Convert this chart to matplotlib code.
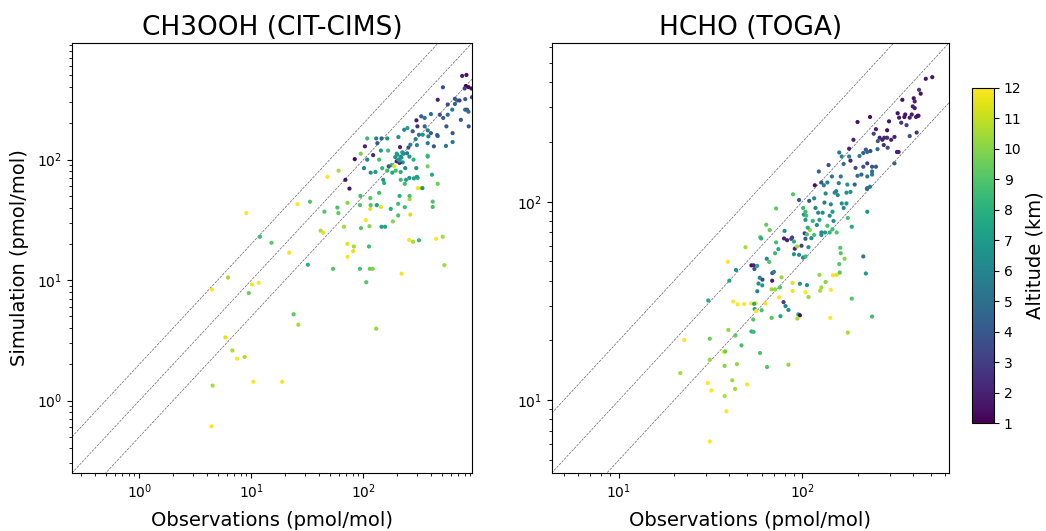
import numpy as np
import matplotlib
matplotlib.use("Agg")
import matplotlib.pyplot as plt

# ---------------- CH3OOH (CIT-CIMS) ----------------
ch3_obs = [4.4, 4.5, 10.4, 18.8, 5.85, 6.76, 7.44, 8.7, 4.45, 6.18,
           9.46, 10.1, 11.6, 9.0, 11.9, 15.1, 21.7, 23.8, 26.2, 25.8,
           33.3, 31.9, 47.6, 60, 41.5, 43.8, 44.8, 53.5, 58.5, 59.7,
           67, 72, 72, 72, 82, 81, 69, 75, 83.6, 93,
           94, 94.6, 101, 93, 106, 114, 121, 112, 105, 95,
           113, 115, 116, 130, 131.5, 143, 145, 156, 183, 204,
           234, 262, 219, 256, 277, 313, 445, 510, 528, 415,
           415, 374, 460, 374, 305, 325, 336, 409, 305, 282,
           234, 215, 194, 163, 147, 178, 188, 138, 143, 166,
           133, 145, 130, 108, 163, 205, 231, 247, 212, 252,
           292, 300, 313, 338, 375, 257, 280, 245, 224, 236,
           296, 375, 460, 425, 545, 625, 625, 352, 328, 400,
           297, 303, 352, 480, 515, 565, 550, 460, 512, 565,
           655, 655, 684, 740, 808, 810, 840, 865, 870, 760,
           830, 820, 865, 920, 800, 930, 720, 620, 455, 400,
           380, 375, 275, 262, 257, 210, 198, 168, 103, 122,
           108, 116, 128, 150, 153, 181, 215, 240, 258, 258,
           210, 204, 138, 115, 175, 300, 215, 200, 205, 218,
           228, 210, 192, 222, 198]
ch3_sim = [0.61, 1.33, 1.43, 1.43, 3.34, 2.6, 2.23, 2.3, 8.35, 10.5,
           7.8, 9.2, 9.5, 36, 22.9, 20.4, 16.9, 5.2, 4.26, 42.7,
           44.7, 13.4, 72, 81, 25.7, 24.7, 37, 12.4, 40, 36,
           27.7, 43.8, 20, 15.6, 19, 17.4, 68, 57.5, 101, 41.9,
           50, 112, 85, 12.4, 9.6, 12.4, 12.4, 19, 31.5, 27,
           28, 39, 41.9, 3.95, 41.9, 40.5, 27.7, 27.7, 30.7, 34.4,
           40.3, 35, 11.3, 21.5, 20.8, 21.4, 22, 22.9, 13.3, 40.5,
           44.8, 88, 63, 108, 58, 58, 58, 75, 70.5, 70,
           63, 79, 81, 81, 85, 90, 88, 100, 119, 119,
           137, 150, 150, 150, 150, 154, 177, 183, 127, 126,
           148, 132, 161, 161, 106, 106, 100, 113, 95, 85,
           85, 137, 157, 129, 130, 140, 166, 189, 229, 239,
           212, 189, 222, 236, 222, 236, 189, 314, 399, 287,
           320, 290, 310, 214, 260, 318, 260, 250, 189, 496,
           505, 409, 400, 390, 390, 330, 310, 260, 160, 166,
           156, 175, 172, 133, 70.5, 94, 97, 88, 129, 109,
           100, 78, 79, 68, 64, 78, 68, 68, 47, 50,
           50, 43, 53, 48, 39, 72, 106, 110, 100, 104,
           112, 98, 105, 115, 112]
ch3_alt = [12, 10.5, 12, 11.8, 11.5, 10.7, 12, 10.7, 12, 10.5,
           9.5, 11.8, 11.8, 12, 8.5, 9.2, 11.8, 9.2, 10.5, 12,
           9, 8, 12, 10.5, 10.5, 11.5, 9, 9, 8.8, 9.3,
           10.5, 10, 11.5, 11.8, 10.5, 11.5, 1.5, 1.5, 1.2, 9,
           8.7, 9.8, 6, 8.7, 9, 9.5, 9.8, 8.5, 12, 9,
           10, 11.5, 9, 10.2, 7, 11.5, 7.2, 7.5, 10, 8.8,
           8.5, 11.3, 11.8, 11.8, 10.5, 8.5, 12, 10.5, 10.5, 8.8,
           9, 9.8, 9.5, 9, 11.8, 11.5, 6.5, 7.7, 8.2, 7.3,
           8.5, 8, 8.5, 8.6, 8.2, 8.2, 11.5, 8.8, 7, 8.5,
           4, 4.5, 6, 8.5, 6.5, 6.5, 6, 7.5, 2, 3.5,
           5.5, 6, 5.5, 6.8, 8.3, 6.5, 8, 5.5, 6.5, 6,
           6.5, 5.5, 4.5, 4, 5.5, 5.5, 4, 4.5, 4, 5,
           1.8, 2.5, 5.2, 3.5, 4, 5, 4, 2, 3.5, 3.5,
           3.5, 4.5, 5, 4, 5, 4, 4, 5, 4, 2,
           1.5, 1, 1.3, 1.5, 3, 3.5, 3, 5.5, 4, 4.2,
           5.5, 5.5, 4, 6, 6.5, 2, 2, 4, 2, 2,
           6, 6.5, 7, 6.8, 8, 7.5, 8.5, 7.2, 10.5, 8.8,
           8, 8.6, 8.7, 9, 8, 7.3, 6.5, 6.5, 6.8, 6.5,
           6.2, 7, 6.5, 6.8, 7.2]

# ---------------- HCHO (TOGA) ----------------
hcho_obs = [31.3, 38.6, 37.7, 30.5, 31.9, 41.5, 43, 50, 21.6, 22.7,
            31.3, 31.3, 37.7, 37.2, 38, 44, 39.5, 43.2, 46.6, 52.8,
            54.2, 58.8, 64.2, 84, 30.7, 42, 44.4, 48.2, 52.6, 55.8,
            63, 54.6, 55, 56, 60, 54, 68, 76, 79, 81,
            84, 95, 97, 94, 74.5, 75.5, 68, 71, 68.5, 60.6,
            77, 88.5, 88.5, 97, 106, 108, 104, 125, 127, 134,
            143, 124, 147, 154, 160, 159, 170, 162, 161, 186,
            240, 177, 142, 222, 215, 186, 177, 226, 72, 89,
            63.6, 66.4, 59, 59.7, 49, 43.5, 40, 39.3, 52.8, 54.3,
            54.8, 56.7, 58.6, 57.7, 56.8, 60.5, 68.6, 70, 64, 66,
            71, 74, 72, 80, 79.5, 82.6, 87, 88, 90, 91,
            93.7, 96, 90, 99, 101, 104, 108, 103, 110, 106,
            104, 112, 116, 120, 107, 114, 104, 102, 96, 101,
            104, 105, 109, 116, 118, 122, 124, 127, 127, 133,
            137, 141, 146, 154, 148, 141, 146, 132, 143, 129,
            134, 131, 127, 137, 117, 123, 139, 145, 162, 158,
            150, 164, 168, 174, 153, 156, 176, 183, 174, 159,
            164, 168, 180, 180, 195, 200, 210, 193, 226, 240,
            215, 240, 240, 226, 252, 226, 183, 205, 215, 222,
            235, 226, 257, 190, 200, 234, 252, 245, 264, 273,
            258, 280, 290, 305, 278, 292, 318, 328, 290, 297,
            331, 337, 346, 360, 364, 351, 385, 395, 370, 410,
            417, 400, 405, 410, 425, 430, 433, 442, 471, 511,
            385, 420, 318, 335, 234, 225]
hcho_sim = [6.2, 8.8, 10.5, 12.2, 11.2, 12.6, 11.4, 12, 13.7, 20.1,
            16, 20.4, 14.9, 17.5, 17.6, 15.2, 22.6, 21.2, 18.9, 22.2,
            22.1, 17.3, 14.7, 15.1, 31.8, 31.4, 30.4, 30.5, 30.7, 30.8,
            30.7, 30.6, 28.8, 28.2, 28.4, 25.5, 26, 26.5, 31.2, 29.8,
            28.5, 27.1, 26.8, 25.8, 33, 37, 36.2, 36.2, 40, 40.5,
            41.6, 35.5, 39, 38.6, 38, 33.1, 35, 35.6, 37, 39.4,
            36, 42.8, 42.6, 42.8, 44, 48.5, 51.6, 55, 58.6, 32.5,
            26.4, 21.9, 26, 43.5, 53, 74.8, 82.8, 89, 92.5, 109,
            76.6, 72, 66.3, 65.3, 59, 45.3, 40, 49.8, 47.8, 47.8,
            45.8, 47.5, 41.4, 38.7, 35.4, 37.9, 43.7, 44.3, 51.6, 49.7,
            55, 57.7, 62.4, 71.3, 65.3, 64, 65, 66, 63, 58,
            59.5, 54, 54.4, 60, 52.3, 53, 59, 69.3, 72, 68.5,
            65.1, 65.5, 68, 76.3, 74, 80, 81, 86, 102, 93,
            89, 85, 101, 104, 93, 88, 81, 70, 68, 70,
            75.6, 70, 72.6, 70, 80, 85, 89, 99, 97, 88,
            110, 121, 125, 125, 121, 142, 153, 134, 134, 124,
            111, 98, 93, 98, 113, 108, 122, 112, 111, 177,
            169, 155, 169, 185, 148, 135, 137, 122, 134, 137,
            150, 150, 142, 156, 150, 117, 161, 170, 176, 183,
            180, 178, 184, 205, 252, 267, 232, 220, 210, 205,
            202, 210, 210, 205, 193, 187, 156, 178, 229, 254,
            279, 265, 250, 267, 275, 326, 265, 275, 243, 296,
            267, 302, 332, 320, 271, 271, 366, 350, 416, 424,
            214, 223, 212, 178, 119, 116]
hcho_alt = [12, 12, 10.7, 12, 12, 10.5, 10.5, 12, 10.5, 12,
            10.3, 9.5, 10, 12, 9.5, 10.2, 10.2, 9.3, 8.7, 8,
            8.5, 9, 9, 10.3, 7.8, 12, 12, 12, 12, 11.7,
            11.8, 7.7, 7.3, 12, 8.8, 9, 9, 7.5, 3, 6,
            6.5, 8.3, 1.5, 10.5, 12, 9, 10.3, 10.2, 2, 3,
            10.3, 11.8, 11.5, 6.5, 6.5, 10.3, 12, 10.5, 10.5, 10,
            12, 10.3, 11.8, 11.5, 9, 9, 10, 9, 9, 9,
            8.5, 10.5, 12, 7, 5.5, 7.5, 8.7, 6.5, 9.3, 9,
            9.3, 9.5, 9, 8, 10.5, 6.5, 7.5, 12, 1.5, 2,
            4, 7.5, 6, 6.5, 6, 7, 4, 6, 6.3, 9,
            8.5, 7.8, 8.7, 6.5, 2, 2, 4, 3, 7.8, 2,
            10.5, 6.5, 6.8, 3, 6, 8.5, 6.5, 3, 10.2, 9,
            4, 6, 8.8, 6.5, 7.8, 8.3, 7, 6.5, 4, 8.5,
            8.5, 8.8, 4, 6, 5.8, 6.2, 7.5, 6, 6.5, 7,
            8.7, 8.3, 8.5, 9, 6.5, 6.2, 7, 5.8, 6.2, 6.3,
            6.3, 5.8, 4, 6, 1.5, 4.5, 3.5, 5.5, 5.5, 5.8,
            6.3, 6.5, 6.3, 6.5, 6, 6.3, 6.8, 6.5, 6.5, 5.3,
            6, 5, 6, 2, 3.5, 5, 4.5, 4.5, 5.5, 5.5,
            4, 4, 5, 3, 4, 4.5, 2, 5.5, 4.3, 4,
            3.5, 5, 4.5, 2, 1.5, 1.5, 2, 3, 2, 2,
            4, 2, 2.5, 2, 2.5, 3.5, 4.5, 2, 1.5, 1.5,
            1.5, 1.8, 2.5, 1.5, 1.5, 1.5, 2, 1.8, 3, 1.8,
            2, 2, 1.5, 2, 1.5, 1.5, 3, 1.5, 1.5, 1.5,
            3.5, 2.5, 2, 2, 5.5, 4.8]

titles = ["CH3OOH (CIT-CIMS)", "HCHO (TOGA)"]
limits = [(0.25, 930), (4.3, 630)]
alt_min, alt_max = 1, 12

fig = plt.figure(figsize=(10.46, 5.31), dpi=100)
ax1 = fig.add_axes([0.0688, 0.1092, 0.3824, 0.8098])
ax2 = fig.add_axes([0.5274, 0.1092, 0.3798, 0.8098])
cax = fig.add_axes([0.9293, 0.2028, 0.021, 0.632])

panels = [(ax1, ch3_obs, ch3_sim, ch3_alt), (ax2, hcho_obs, hcho_sim, hcho_alt)]
sc = None
for i, (ax, obs, sim, alt) in enumerate(panels):
    lo, hi = limits[i]
    ref = np.array([lo, hi])
    for fac in (2.0, 1.0, 0.5):
        ax.plot(ref, fac * ref, color='k', ls='--', lw=0.5, alpha=0.6, zorder=1)
    sc = ax.scatter(obs, sim, c=alt, cmap='viridis', vmin=alt_min, vmax=alt_max,
                    s=9, linewidths=0, zorder=2)
    ax.set_xscale('log')
    ax.set_yscale('log')
    ax.set_xlim(lo, hi)
    ax.set_ylim(lo, hi)
    ax.set_title(titles[i], fontsize=19)
    ax.set_xlabel("Observations (pmol/mol)", fontsize=14, labelpad=7)

ax1.set_ylabel("Simulation (pmol/mol)", fontsize=14, labelpad=6)

cb = fig.colorbar(sc, cax=cax, ticks=range(1, 13))
cb.set_label("Altitude (km)", fontsize=14, labelpad=3)

fig.savefig("out.png", dpi=100)
